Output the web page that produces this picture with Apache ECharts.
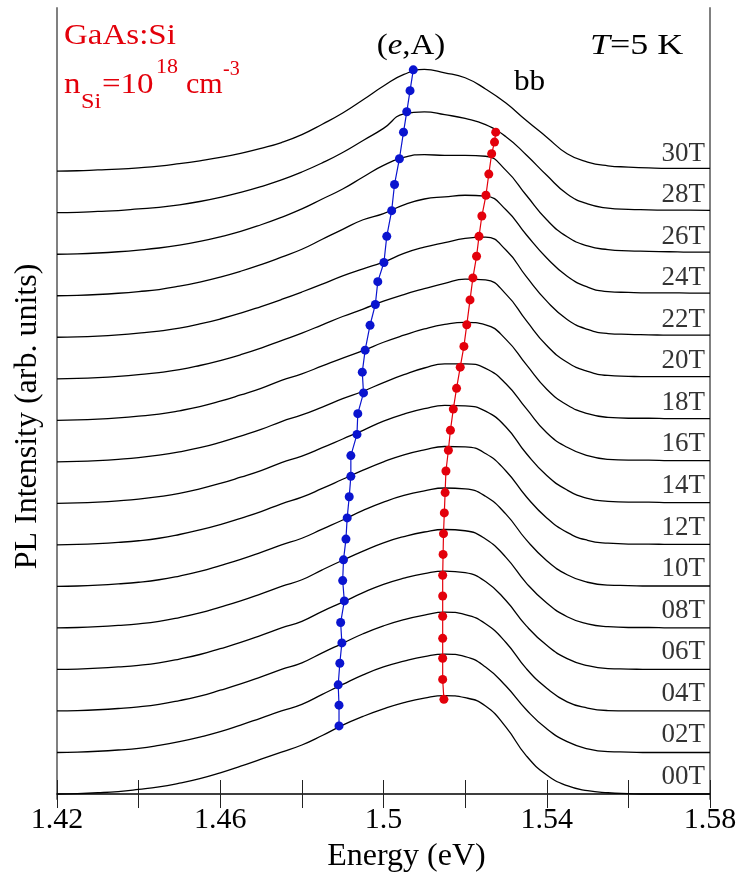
<!DOCTYPE html>
<html>
<head>
<meta charset="utf-8">
<script src="https://cdn.jsdelivr.net/npm/echarts@6/dist/echarts.min.js"></script>
<style>
  html, body { margin: 0; padding: 0; background: #ffffff; }
  #chart { width: 742px; height: 879px; }
</style>
</head>
<body>
<div id="chart"></div>
<script>
// Photon energy grid (eV), 5 meV spacing, on which every spectrum is sampled
const energyGrid = [1.420, 1.425, 1.430, 1.435, 1.440, 1.445, 1.450, 1.455, 1.460, 1.465, 1.470,
                    1.475, 1.480, 1.485, 1.490, 1.495, 1.500, 1.505, 1.510, 1.515, 1.520, 1.525,
                    1.530, 1.535, 1.540, 1.545, 1.550, 1.555, 1.560, 1.565, 1.570, 1.575, 1.580];

// Magnetic fields (T) of the plotted spectra and their tags
const fieldValues = [0, 2, 4, 6, 8, 10, 12, 14, 16, 18, 20, 22, 24, 26, 28, 30];
const fieldLabels = ['00T', '02T', '04T', '06T', '08T', '10T', '12T', '14T', '16T', '18T', '20T', '22T', '24T', '26T', '28T', '30T'];

// PL intensity (arb. units, above each trace's own baseline) at each grid energy
const pl00T = [0.00, 0.01, 0.03, 0.06, 0.11, 0.17, 0.26, 0.37, 0.51, 0.67, 0.84, 1.01, 1.18, 1.41, 1.66, 1.87, 2.05, 2.20, 2.31, 2.37, 2.32, 2.12, 1.61, 0.92, 0.46, 0.20, 0.08, 0.03, 0.01, 0.00, 0.00, 0.00, 0.00];
const pl02T = [0.00, 0.01, 0.03, 0.06, 0.10, 0.17, 0.26, 0.37, 0.50, 0.66, 0.83, 1.00, 1.16, 1.40, 1.64, 1.87, 2.06, 2.20, 2.31, 2.37, 2.31, 2.06, 1.60, 1.03, 0.57, 0.26, 0.09, 0.02, 0.01, 0.00, 0.00, 0.00, 0.00];
const pl04T = [0.00, 0.01, 0.03, 0.06, 0.10, 0.16, 0.25, 0.36, 0.50, 0.65, 0.82, 1.00, 1.16, 1.40, 1.63, 1.86, 2.05, 2.20, 2.31, 2.38, 2.32, 2.10, 1.65, 1.02, 0.55, 0.22, 0.07, 0.01, 0.00, 0.00, 0.00, 0.00, 0.00];
const pl06T = [0.00, 0.01, 0.03, 0.06, 0.10, 0.16, 0.25, 0.36, 0.50, 0.65, 0.82, 1.00, 1.16, 1.40, 1.62, 1.85, 2.05, 2.20, 2.31, 2.37, 2.33, 2.12, 1.66, 1.05, 0.58, 0.26, 0.09, 0.02, 0.01, 0.00, 0.00, 0.00, 0.00];
const pl08T = [0.00, 0.01, 0.03, 0.06, 0.10, 0.16, 0.25, 0.36, 0.50, 0.65, 0.82, 1.00, 1.16, 1.40, 1.63, 1.85, 2.05, 2.20, 2.31, 2.37, 2.34, 2.14, 1.70, 1.08, 0.60, 0.27, 0.10, 0.03, 0.01, 0.01, 0.00, 0.00, 0.00];
const pl10T = [0.00, 0.01, 0.03, 0.06, 0.10, 0.16, 0.25, 0.36, 0.50, 0.65, 0.82, 1.00, 1.16, 1.38, 1.60, 1.83, 2.03, 2.19, 2.30, 2.37, 2.35, 2.17, 1.74, 1.12, 0.62, 0.28, 0.10, 0.03, 0.02, 0.01, 0.01, 0.01, 0.01];
const pl12T = [0.00, 0.01, 0.03, 0.06, 0.10, 0.16, 0.25, 0.36, 0.49, 0.64, 0.80, 0.99, 1.15, 1.36, 1.58, 1.80, 2.00, 2.17, 2.29, 2.37, 2.36, 2.20, 1.78, 1.16, 0.65, 0.30, 0.11, 0.04, 0.02, 0.02, 0.01, 0.01, 0.01];
const pl14T = [0.00, 0.01, 0.03, 0.06, 0.10, 0.16, 0.24, 0.35, 0.48, 0.63, 0.79, 0.98, 1.14, 1.34, 1.55, 1.76, 1.98, 2.15, 2.28, 2.36, 2.35, 2.22, 1.84, 1.20, 0.67, 0.32, 0.12, 0.05, 0.03, 0.03, 0.02, 0.02, 0.02];
const pl16T = [0.00, 0.01, 0.03, 0.06, 0.10, 0.16, 0.24, 0.34, 0.47, 0.62, 0.78, 0.97, 1.13, 1.32, 1.52, 1.70, 1.91, 2.10, 2.26, 2.36, 2.36, 2.25, 1.88, 1.28, 0.70, 0.35, 0.15, 0.06, 0.04, 0.04, 0.03, 0.03, 0.03];
const pl18T = [0.00, 0.01, 0.03, 0.06, 0.10, 0.15, 0.23, 0.33, 0.46, 0.61, 0.77, 0.96, 1.12, 1.31, 1.50, 1.68, 1.88, 2.05, 2.20, 2.31, 2.36, 2.30, 1.95, 1.34, 0.75, 0.37, 0.16, 0.07, 0.05, 0.05, 0.04, 0.04, 0.04];
const pl20T = [0.00, 0.01, 0.03, 0.06, 0.10, 0.15, 0.22, 0.32, 0.44, 0.58, 0.74, 0.92, 1.10, 1.30, 1.50, 1.68, 1.87, 2.03, 2.17, 2.30, 2.40, 2.38, 2.04, 1.40, 0.80, 0.40, 0.18, 0.08, 0.06, 0.05, 0.05, 0.05, 0.05];
const pl22T = [0.00, 0.01, 0.03, 0.06, 0.10, 0.15, 0.22, 0.32, 0.44, 0.58, 0.74, 0.91, 1.09, 1.28, 1.48, 1.65, 1.81, 2.02, 2.17, 2.28, 2.38, 2.41, 2.10, 1.46, 0.87, 0.43, 0.19, 0.09, 0.07, 0.06, 0.05, 0.05, 0.05];
const pl24T = [0.00, 0.01, 0.03, 0.06, 0.10, 0.15, 0.23, 0.33, 0.45, 0.59, 0.75, 0.93, 1.12, 1.36, 1.60, 1.83, 1.98, 2.19, 2.33, 2.38, 2.42, 2.40, 2.07, 1.47, 0.91, 0.47, 0.21, 0.10, 0.08, 0.07, 0.07, 0.065, 0.065];
const pl26T = [0.00, 0.01, 0.03, 0.06, 0.10, 0.15, 0.22, 0.31, 0.42, 0.55, 0.71, 0.89, 1.09, 1.33, 1.57, 1.86, 2.14, 2.33, 2.40, 2.38, 2.38, 2.36, 2.02, 1.42, 0.83, 0.42, 0.20, 0.11, 0.08, 0.07, 0.06, 0.05, 0.05];
const pl28T = [0.00, 0.01, 0.03, 0.05, 0.09, 0.13, 0.19, 0.27, 0.37, 0.49, 0.63, 0.79, 0.98, 1.20, 1.45, 1.74, 2.03, 2.38, 2.43, 2.36, 2.27, 2.12, 1.83, 1.39, 0.90, 0.45, 0.21, 0.11, 0.08, 0.07, 0.06, 0.06, 0.055];
const pl30T = [0.00, 0.01, 0.03, 0.05, 0.08, 0.12, 0.18, 0.25, 0.33, 0.43, 0.55, 0.69, 0.88, 1.13, 1.40, 1.72, 2.05, 2.33, 2.45, 2.37, 2.25, 1.98, 1.64, 1.22, 0.82, 0.42, 0.22, 0.13, 0.10, 0.08, 0.07, 0.07, 0.07];

// (e,A) peak: field (T), peak energy (eV), peak intensity above its own baseline
const eaField = [0, 1, 2, 3, 4, 5, 6, 7, 8, 9, 10, 11, 12, 13, 14, 15, 16, 17, 18, 19, 20, 21, 22, 23, 24, 25, 26, 27, 28, 29, 30];
const eaEnergy = [1.4891, 1.4891, 1.4889, 1.4893, 1.4898, 1.4895, 1.4904, 1.4900, 1.4902, 1.4908, 1.4911, 1.4916, 1.4920, 1.4920, 1.4935, 1.4937,
                  1.4951, 1.4948, 1.4955, 1.4967, 1.4980, 1.4986, 1.5001, 1.5008, 1.5020, 1.5027, 1.5039, 1.5049, 1.5057, 1.5065, 1.5073];
const eaIntensity = [1.64, 1.64, 1.63, 1.65, 1.64, 1.63, 1.65, 1.64, 1.64, 1.64, 1.65, 1.66, 1.65, 1.65, 1.66, 1.66,
                     1.66, 1.66, 1.69, 1.79, 1.79, 1.84, 1.80, 1.93, 2.05, 2.18, 2.30, 2.44, 2.43, 2.44, 2.44];

// band-to-band (bb) peak: field (T), peak energy (eV), peak intensity above its own baseline
const bbField = [0, 1, 2, 3, 4, 5, 6, 7, 8, 9, 10, 11, 12, 13, 14, 15, 16, 17, 18, 19, 20, 21, 22, 23, 24, 25, 26, 27, 28];
const bbEnergy = [1.5148, 1.5145, 1.5145, 1.5145, 1.5145, 1.5145, 1.5145, 1.5146, 1.5147, 1.5149, 1.5151, 1.5153, 1.5159, 1.5164, 1.5171,
                  1.5179, 1.5188, 1.5197, 1.5204, 1.5212, 1.5219, 1.5228, 1.5234, 1.5241, 1.5251, 1.5258, 1.5265, 1.5272, 1.5275];
const bbIntensity = [2.28, 2.26, 2.27, 2.25, 2.28, 2.27, 2.27, 2.27, 2.27, 2.27, 2.26, 2.28, 2.28, 2.26, 2.27,
                     2.27, 2.28, 2.28, 2.30, 2.40, 2.43, 2.45, 2.43, 2.42, 2.42, 2.43, 2.42, 2.20, 1.94];

// Energy axis tick labels (every other tick)
const xTickLabels = ['1.42', '1.46', '1.5', '1.54', '1.58'];

const spectra = [pl00T, pl02T, pl04T, pl06T, pl08T, pl10T, pl12T, pl14T, pl16T, pl18T, pl20T, pl22T, pl24T, pl26T, pl28T, pl30T];

// Spectra are stacked: each 2 T step lifts the trace by one unit
const STEP_PER_TESLA = 0.5;
const offsetOf = b => b * STEP_PER_TESLA;

const SERIF = '"Liberation Serif", "Times New Roman", serif';
const RED = '#e3000b';
const BLUE = '#0a14cf';

const spectrumSeries = spectra.map((s, i) => ({
  type: 'line',
  name: fieldLabels[i],
  data: energyGrid.map((e, j) => [e, offsetOf(fieldValues[i]) + s[j]]),
  smooth: 0.5,
  showSymbol: false,
  symbol: 'none',
  silent: true,
  lineStyle: { color: '#000000', width: 1.3 },
  z: 2
}));

const eaSeries = {
  type: 'line',
  name: '(e,A)',
  data: eaEnergy.map((e, i) => [e, offsetOf(eaField[i]) + eaIntensity[i]]),
  symbol: 'circle',
  symbolSize: 9,
  showAllSymbol: true,
  lineStyle: { color: BLUE, width: 1.2 },
  itemStyle: { color: BLUE },
  silent: true,
  z: 5
};

const bbSeries = {
  type: 'line',
  name: 'bb',
  data: bbEnergy.map((e, i) => [e, offsetOf(bbField[i]) + bbIntensity[i]]),
  symbol: 'circle',
  symbolSize: 9,
  showAllSymbol: true,
  lineStyle: { color: RED, width: 1.2 },
  itemStyle: { color: RED },
  silent: true,
  z: 5
};

// Field tags sit just above the right-hand end of each trace
const tagSeries = {
  type: 'scatter',
  name: 'field tags',
  data: fieldValues.map((b, i) => ({ value: [1.58, offsetOf(b) + 0.42], name: fieldLabels[i] })),
  symbolSize: 0,
  silent: true,
  label: {
    show: true,
    position: 'left',
    distance: 5,
    formatter: '{b}',
    fontFamily: SERIF,
    fontSize: 27,
    color: '#000000'
  },
  z: 6
};

// Free text annotations (slightly widened serif lettering)
const annot = (x, y, text, size, fill, sx, extra) => ({
  type: 'text', x, y, scaleX: sx, scaleY: 1,
  style: Object.assign({ text, font: size + 'px ' + SERIF, fill, textVerticalAlign: 'middle' }, extra || {})
});
const italicRich = { i: { fontStyle: 'italic', fontFamily: SERIF, fontSize: 30 } };

const chart = echarts.init(document.getElementById('chart'), null, { renderer: 'canvas' });

chart.setOption({
  animation: false,
  backgroundColor: '#ffffff',
  grid: { left: 57, right: 32, top: 8, bottom: 80, containLabel: false },
  xAxis: [
    {
      type: 'value',
      min: 1.42,
      max: 1.58,
      interval: 0.02,
      position: 'bottom',
      axisLine: { show: true, lineStyle: { color: '#333333', width: 1.5 } },
      axisTick: { show: true, inside: true, length: 14, lineStyle: { color: '#222222', width: 1 } },
      axisLabel: {
        margin: 6,
        fontFamily: SERIF,
        fontSize: 30,
        color: '#000000',
        formatter: v => {
          const k = Math.round((v - 1.42) / 0.02);
          return k % 2 === 0 ? xTickLabels[k / 2] : '';
        }
      },
      splitLine: { show: false },
      name: 'Energy (eV)',
      nameLocation: 'middle',
      nameGap: 42,
      nameTextStyle: { fontFamily: SERIF, fontSize: 32, color: '#000000', padding: [0, 0, 0, 46] }
    },
    {
      type: 'value',
      min: 1.42,
      max: 1.58,
      interval: 0.02,
      position: 'top',
      axisLine: { show: true, lineStyle: { color: '#333333', width: 1.5 } },
      axisTick: { show: true, inside: true, length: 14, lineStyle: { color: '#222222', width: 1 } },
      axisLabel: { show: false },
      splitLine: { show: false }
    }
  ],
  yAxis: [
    {
      type: 'value',
      min: -0.12,
      max: 18.93,
      position: 'left',
      axisLine: { show: true, lineStyle: { color: '#808080', width: 2 } },
      axisTick: { show: false },
      axisLabel: { show: false },
      splitLine: { show: false },
      name: 'PL Intensity (arb. units)',
      nameLocation: 'middle',
      nameRotate: 90,
      nameGap: 13,
      nameTextStyle: { fontFamily: SERIF, fontSize: 32, color: '#000000', padding: [0, 26, 0, 0] }
    },
    {
      type: 'value',
      min: -0.12,
      max: 18.93,
      position: 'right',
      axisLine: { show: true, lineStyle: { color: '#808080', width: 2 } },
      axisTick: { show: false },
      axisLabel: { show: false },
      splitLine: { show: false }
    }
  ],
  series: [...spectrumSeries, eaSeries, bbSeries, tagSeries],
  graphic: [
    annot(64, 36, 'GaAs:Si', 30, RED, 1.1),
    annot(64, 85, 'n', 30, RED, 1.1),
    annot(81, 102, 'Si', 22, RED, 1.1),
    annot(102, 85, '=10', 30, RED, 1.1),
    annot(156, 68, '18', 20, RED, 1.1),
    annot(186, 85, 'cm', 30, RED, 1.0),
    annot(223, 70, '-3', 20, RED, 1.0),
    annot(411, 46, '({i|e},A)', 30, '#000000', 1.1, { textAlign: 'center', rich: italicRich }),
    annot(514, 82, 'bb', 30, '#000000', 1.04),
    annot(590, 46, '{i|T}=5 K', 30, '#000000', 1.2, { rich: italicRich })
  ]
});
</script>
</body>
</html>
